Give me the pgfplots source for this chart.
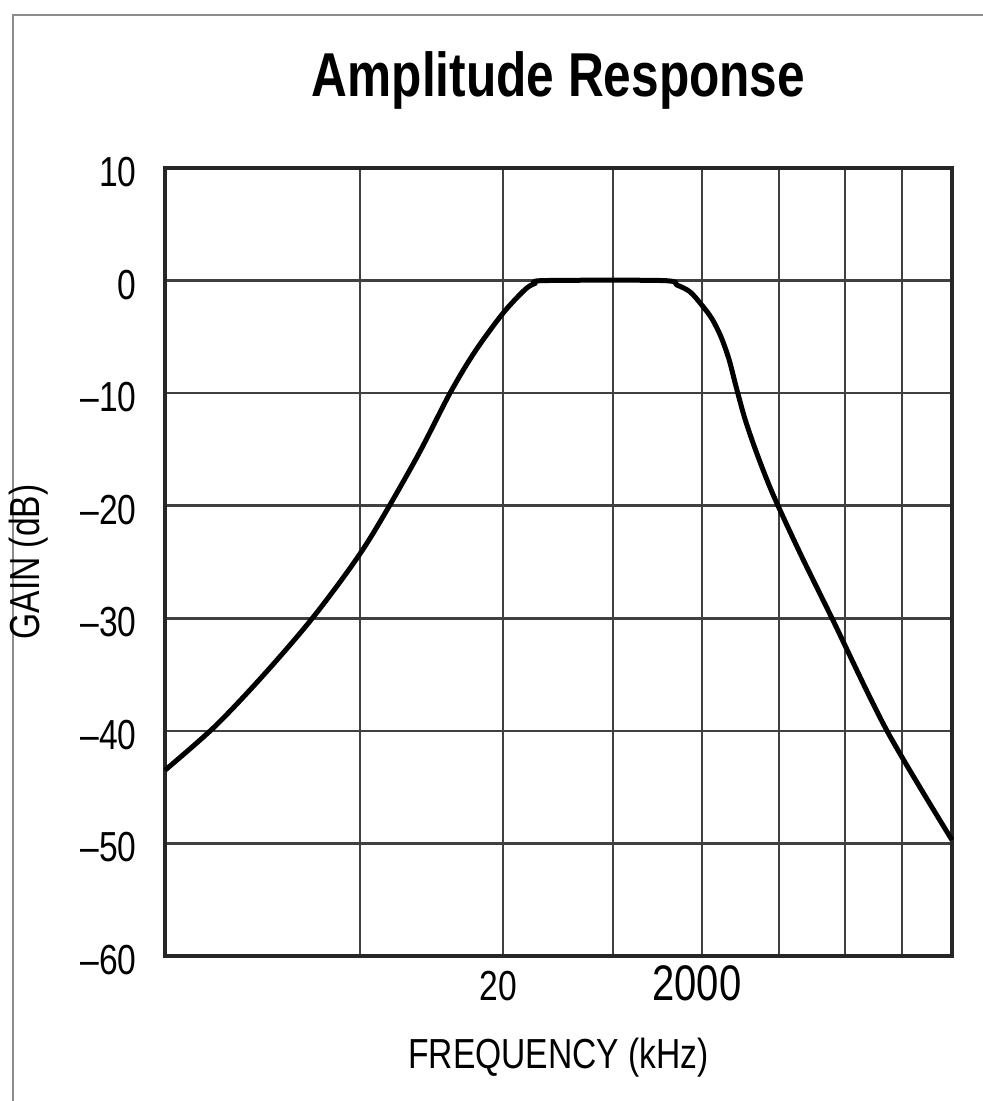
\documentclass[border=0pt]{standalone}
\usepackage{fontspec}
\setmainfont[FakeStretch=0.8]{Liberation Sans}
\usepackage{pgfplots}
\pgfplotsset{compat=1.18}

\begin{document}
\begin{tikzpicture}
% 1 px of the reference = 0.5pt
\path[use as bounding box] (0,0) rectangle (491.5pt,550.5pt);
\draw[black!45, line width=1.2pt] (6.5pt,0) -- (6.5pt,543pt) -- (491.5pt,543pt);
\begin{axis}[
    at={(82.5pt,72.5pt)}, anchor=south west,
    width=393.5pt, height=394pt, scale only axis,
    xmin=0, xmax=7.87, ymin=-60, ymax=10,
    axis line style={black!85, line width=1.8pt},
    grid=major,
    major grid style={black!75, line width=1.3pt},
    major tick length=0pt,
    ytick={-60,-50,...,10},
    yticklabels={–60,–50,–40,–30,–20,–10,0,10},
    xtick={1.95,3.38,4.48,5.37,6.14,6.80,7.37},
    xticklabels={,20,,{\fontsize{25}{25}\selectfont 2000},,,},
    ticklabel style={font=\fontsize{21}{21}\selectfont, text=black},
    yticklabel style={anchor=east, inner sep=0pt, xshift=-14pt, yshift=-2pt},
    xticklabel style={anchor=base, inner sep=0pt, yshift=-22.5pt, xshift=-2.5pt},
    title={Amplitude Response},
    title style={at={(0.5,1)}, anchor=base, yshift=29.5pt,
        font=\fontsize{31}{31}\selectfont\bfseries},
    xlabel={FREQUENCY (kHz)},
    xlabel style={at={(axis description cs:0.5,0)}, anchor=center, yshift=-51pt,
        font=\fontsize{21}{21}\selectfont},
    ylabel={GAIN (dB)},
    ylabel style={at={(axis description cs:0,0.5)}, anchor=center, yshift=68pt,
        font=\fontsize{21}{21}\selectfont},
    clip=false,
]
\addplot[black, line width=2.5pt, smooth] coordinates {
(0,-43.5) (0.5,-39.6) (1.0,-34.9) (1.5,-29.7) (2.0,-23.6) (2.5,-16.0)
(2.85,-10) (3.1,-6.3) (3.38,-2.9) (3.6,-0.8) (3.70,-0.25) (3.80,0)
(4.98,0) (5.12,-0.4) (5.25,-1.0) (5.37,-2.2) (5.47,-3.4) (5.56,-5.0)
(5.64,-7.0) (5.71,-9.4) (5.80,-12.3) (5.92,-15.4) (6.08,-19.0) (6.35,-24.2)
(6.67,-30) (7.22,-40) (7.87,-49.7)
};
\end{axis}
\end{tikzpicture}
\end{document}
